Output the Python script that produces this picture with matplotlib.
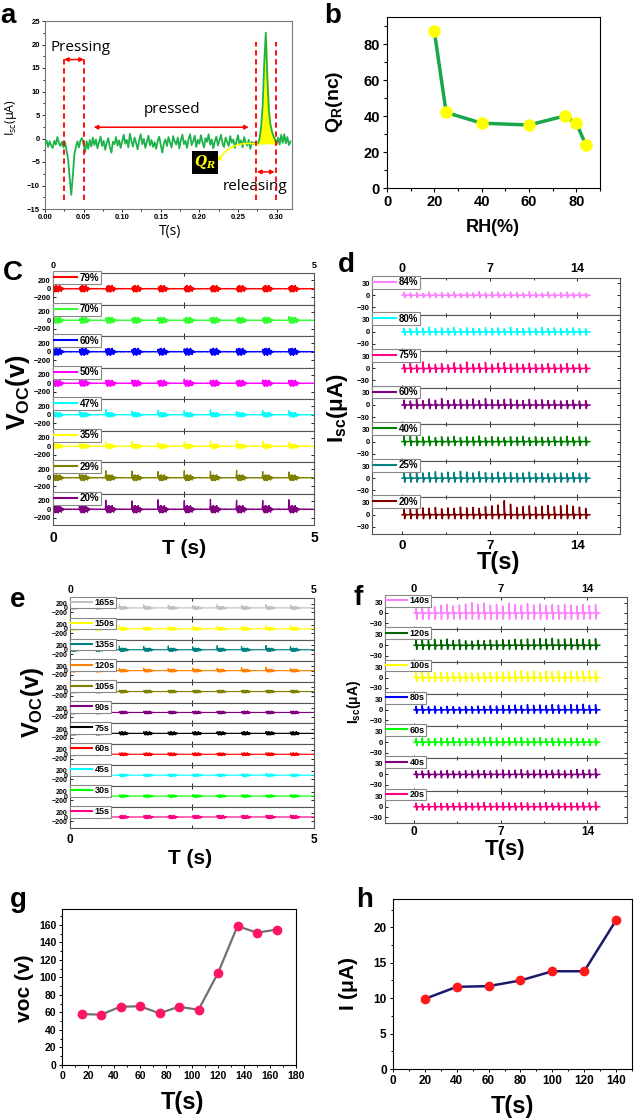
import numpy as np
import matplotlib
matplotlib.use('Agg')
import matplotlib.pyplot as plt
from matplotlib.ticker import MultipleLocator

plt.rcParams['font.family'] = ['Liberation Sans', 'DejaVu Sans']
plt.rcParams['font.weight'] = 'bold'
plt.rcParams['mathtext.default'] = 'regular'
plt.rcParams['mathtext.fontset'] = 'dejavuserif'

# ---------------- data ----------------
# panel a: short-circuit current, one press/release cycle (0.002 s step)
a_time = np.arange(160) * 0.002
a_isc = [-1.2, -0.4, -1.8, -0.6, -1.5, -2.0, -0.5, -1.3, 0.3, -1.0, -1.6, -0.7,
         -1.9, -0.8, -2.6, -4.5, -8.5, -12.0, -8.0, -3.5, -1.8, -0.6, -1.9, -0.4,
         0.1, -1.2, -2.9, -0.6, -2.2, -0.3, -1.7,
         0.2, -1.4, -0.2, -2.1, -0.8, 0.4, -1.6, -0.5, -2.4, -0.9,
         0.1, -1.8, -3.0, -0.7, -1.2, 0.3, -1.5, -0.4, -2.0, -0.6,
         0.8, -1.1, -0.3, -1.9, 1.0, -0.6, -1.7, 0.2, -0.9, -2.3,
         -0.4, 0.9, -1.2, -0.1, -2.0, -0.7, 0.6, -1.5, -0.3, -1.8,
         -0.8, -2.2, -0.5, 0.4, -1.4, -3.0, -1.0, -0.2, -1.6, 0.3,
         -0.9, -1.9, 0.5, -0.6, -1.3, 0.2, -2.1, -0.4, 0.8, -1.2,
         -0.5, -2.0, -0.1, 0.9, -1.4, -0.6, 0.6, -1.8, -0.3, -1.1,
         0.7, -0.8, -1.9, 0.1, -0.7, 0.9, -1.3, -0.2, -2.1, -0.6,
         0.4, -1.5, -0.4, 0.8, -1.0, -1.8, 0.2, -0.7, -1.6, 0.5,
         -0.9, -0.2, -2.0, -0.6, 0.7, -1.3, -0.4, -1.9, 0.3, -0.8,
         -1.5, -0.3, -2.2, -0.7, -1.2, -0.9,
         -1.3, -1.0, 0.0, 2.5, 7.0, 16.0, 22.5, 13.0, 6.0, 3.0, 1.5, 0.5,
         -0.2, -1.2, 0.2, -1.3, 0.8, -0.9, 0.9, -1.0, 0.3, -1.4, -0.6]

# panel b: transferred charge vs humidity
b_rh = [20, 25, 40, 60, 75, 80, 84]
b_qr = [87, 42, 36, 35, 40, 36, 24]

# panel c: Voc at different RH (per-cycle spike heights, burst amplitude)
c_labels = ['79%', '70%', '60%', '50%', '47%', '35%', '29%', '20%']
c_colors = ['#ff0000', '#33ff33', '#0000ff', '#ff00ff', '#00ffff', '#ffff00', '#808000', '#800080']
c_ripple = [80, 75, 85, 75, 55, 55, 70, 90]
c_spikes = [[20, 30, 10, 25, 20, 15, 30, 20, 25, 30],
            [50, 40, 60, 50, 70, 40, 60, 50, 60, 90],
            [80, 60, 70, 50, 60, 70, 60, 70, 60, 70],
            [60, 90, 70, 80, 60, 100, 70, 60, 80, 70],
            [120, 100, 130, 90, 110, 100, 120, 90, 110, 100],
            [110, 80, 100, 120, 90, 110, 130, 140, 120, 100],
            [120, 140, 170, 160, 150, 170, 160, 180, 150, 140],
            [230, 210, 220, 200, 230, 210, 240, 220, 210, 230]]

# panel d: Isc at different RH (per-pulse peak heights, dip depth)
d_labels = ['84%', '80%', '75%', '60%', '40%', '25%', '20%']
d_colors = ['#ff80ff', '#00ffff', '#ff0080', '#800080', '#008000', '#008080', '#800000']
d_down = [6, 8, 10, 9, 10, 10, 10]
d_up = [[8, 6, 7, 5, 8, 6, 7, 6, 8, 5, 7, 6, 9, 6, 8, 7, 6, 8, 7, 6, 9, 7, 6, 8, 6, 7, 8, 6, 7, 5],
        [9, 8, 10, 9, 12, 8, 10, 9, 11, 8, 10, 9, 8, 11, 9, 10, 8, 12, 9, 8, 10, 9, 11, 8, 10, 9, 8, 10, 9, 8],
        [10, 14, 9, 16, 11, 10, 12, 9, 14, 10, 16, 11, 12, 15, 10, 13, 14, 11, 12, 10, 13, 11, 10, 12, 11, 10, 12, 9, 11, 10],
        [12, 10, 14, 11, 15, 12, 16, 11, 13, 14, 12, 15, 11, 16, 13, 12, 14, 15, 12, 11, 14, 12, 13, 11, 12, 10, 11, 12, 10, 11],
        [14, 16, 12, 11, 13, 10, 12, 11, 13, 10, 12, 11, 14, 10, 12, 11, 10, 12, 11, 13, 10, 12, 11, 10, 12, 11, 13, 10, 12, 11],
        [14, 12, 15, 13, 14, 16, 13, 15, 14, 17, 15, 13, 16, 14, 12, 15, 13, 14, 12, 13, 15, 12, 13, 11, 12, 13, 11, 14, 12, 13],
        [16, 18, 15, 17, 16, 18, 15, 17, 16, 19, 17, 18, 16, 20, 22, 24, 35, 26, 18, 20, 22, 19, 21, 23, 20, 22, 24, 21, 19, 16]]

# panel e: Voc at different contact times
e_labels = ['165s', '150s', '135s', '120s', '105s', '90s', '75s', '60s', '45s', '30s', '15s']
e_colors = ['#c0c0c0', '#ffff00', '#008080', '#ff8000', '#808000', '#800080', '#000000',
            '#ff0000', '#00ffff', '#00ff00', '#ff0080']
e_ripple = [70, 70, 80, 70, 70, 70, 80, 70, 60, 60, 80]
e_spikes = [[40, 60, 160, 150, 140, 120, 150, 130, 160, 140],
            [30, 50, 180, 120, 130, 140, 120, 130, 150, 170],
            [20, 80, 170, 150, 180, 140, 190, 160, 200, 150],
            [20, 40, 100, 120, 110, 130, 120, 150, 160, 110],
            [10, 40, 60, 50, 60, 40, 50, 60, 50, 60],
            [10, 30, 50, 60, 40, 50, 60, 40, 50, 60],
            [10, 30, 70, 80, 60, 70, 80, 60, 90, 70],
            [10, 30, 60, 50, 70, 60, 50, 60, 70, 60],
            [10, 20, 50, 40, 60, 50, 40, 60, 80, 50],
            [10, 30, 60, 50, 60, 70, 50, 60, 50, 70],
            [10, 20, 40, 60, 50, 60, 80, 70, 80, 90]]

# panel f: Isc at different contact times
f_labels = ['140s', '120s', '100s', '80s', '60s', '40s', '20s']
f_colors = ['#ff80ff', '#006400', '#ffff00', '#0000ff', '#00ff00', '#800080', '#ff0080']
f_down = [18, 12, 12, 10, 10, 10, 10]
f_up = [[22, 20, 24, 18, 22, 25, 20, 23, 26, 30, 24, 28, 22, 25, 20, 28, 24, 22, 27, 23, 26, 21, 24, 22, 25, 23, 20, 24, 22, 24],
        [16, 18, 14, 17, 15, 18, 14, 16, 13, 12, 14, 13, 15, 14, 16, 15, 17, 16, 18, 17, 19, 18, 20, 17, 18, 19, 17, 18, 16, 19],
        [15, 17, 14, 16, 15, 14, 16, 13, 15, 14, 13, 15, 14, 16, 15, 17, 18, 20, 17, 19, 16, 18, 17, 19, 16, 18, 17, 19, 18, 20],
        [10, 12, 9, 11, 8, 10, 9, 8, 10, 9, 11, 10, 12, 11, 13, 12, 14, 12, 15, 13, 14, 12, 15, 14, 13, 15, 14, 16, 13, 15],
        [10, 12, 11, 10, 12, 11, 13, 10, 12, 11, 12, 13, 14, 12, 11, 13, 12, 14, 11, 12, 13, 10, 12, 11, 10, 12, 11, 10, 9, 11],
        [9, 10, 11, 9, 10, 11, 10, 9, 11, 10, 12, 11, 10, 12, 13, 11, 12, 14, 11, 12, 13, 11, 12, 13, 11, 12, 14, 12, 13, 16],
        [10, 8, 9, 11, 10, 9, 10, 11, 12, 10, 11, 12, 10, 11, 12, 11, 10, 12, 11, 10, 11, 12, 10, 11, 10, 11, 10, 12, 11, 14]]

# panel g / h
g_t = [15, 30, 45, 60, 75, 90, 105, 120, 135, 150, 165]
g_voc = [58, 57.5, 66.5, 67, 59, 66.5, 63, 105, 158.5, 151, 154.5]
h_t = [20, 40, 60, 80, 100, 120, 140]
h_i = [9.9, 11.6, 11.7, 12.5, 13.8, 13.8, 21.0]

# shape of one Voc cycle (burst after the contact spike), normalised
CYCLE = [0, 0, -0.5, 0.7, -1.0, 0.9, -0.8, 1.0, -0.9, 0.6, -1.0, 0.8, -0.7, 1.0, -0.6, 0.5,
         -0.8, 0.4, -0.3, 0.2, -0.2, 0.1, 0, -0.1, 0.1, 0, -0.05, 0.05, 0.1, -0.1, 0, 0.05,
         -0.05, 0.1, 0, -0.1, 0.05, 0, 0.05, -0.05, 0, 0.1, -0.05, 0, 0.05, -0.1, 0.05, 0, -0.05, 0]

W, H = 634, 1120
fig = plt.figure(figsize=(6.34, 11.2), dpi=100)


def pax(l, t, r, b):
    return fig.add_axes([l / W, 1 - b / H, (r - l) / W, (b - t) / H])


def ptext(x, y, s, **kw):
    fig.text(x / W, 1 - y / H, s, ha=kw.pop('ha', 'center'), va=kw.pop('va', 'center'), **kw)


def voc_trace(spikes, ripple):
    segs = []
    for h in spikes:
        seg = ripple * np.array(CYCLE, dtype=float)
        seg[1] += h
        segs.append(seg)
    y = np.concatenate(segs)
    x = np.linspace(0, 5, len(y))
    return x, y


def isc_trace(ups, down):
    xs, ys = [0.0], [0.0]
    for k, h in enumerate(ups):
        tp = 0.15 + 0.5 * k
        xs += [tp, tp + 0.01, tp + 0.06, tp + 0.11, tp + 0.16, tp + 0.22]
        ys += [0, h, -down, 1.5, -1.5, 0]
    xs.append(15.0)
    ys.append(0.0)
    return xs, ys


def stack(box, labels, colors, traces, xlim, ylim, yticks, xticks, xlabels, minor,
          ytick_fs, leg_fs, top_fs, bot_fs, lw, bot_pad=4):
    l, t, r, b = box
    n = len(labels)
    h = (b - t) / n
    for k in range(n):
        ax = pax(l, t + k * h, r, t + (k + 1) * h)
        xs, ys = traces[k]
        ax.plot(xs, ys, color=colors[k], lw=lw, label=labels[k])
        ax.set_xlim(*xlim)
        ax.set_ylim(*ylim)
        ax.set_yticks(yticks)
        ax.set_xticks(xticks)
        ax.set_xticklabels(xlabels)
        if minor:
            ax.xaxis.set_minor_locator(MultipleLocator(minor))
        ax.tick_params(which='both', direction='in', top=True, right=True, length=2,
                       width=0.6, labelsize=ytick_fs, pad=1.5, labelbottom=False)
        ax.tick_params(which='minor', length=1.2)
        if k == 0:
            ax.tick_params(axis='x', labeltop=True, labelsize=top_fs, pad=2)
        if k == n - 1:
            ax.tick_params(axis='x', labelbottom=True, labelsize=bot_fs, pad=bot_pad)
        for sp in ax.spines.values():
            sp.set_color('#555555')
            sp.set_linewidth(0.8)
        leg = ax.legend(loc='upper left', bbox_to_anchor=(0.0, 1.06), frameon=True,
                        fancybox=False, framealpha=1, edgecolor='#888888',
                        prop={'weight': 'bold', 'size': leg_fs}, handlelength=2.3,
                        handletextpad=0.3, borderpad=0.15, borderaxespad=0)
        leg.get_frame().set_linewidth(0.8)
        leg.get_lines()[0].set_linewidth(1.5)


# ---------------- panel a ----------------
ax = pax(45, 21, 292, 209)
ax.plot(a_time, a_isc, color='#1db34a', lw=1.3, zorder=3)
mask = (a_time >= 0.276) & (a_time <= 0.3)
ax.fill_between(a_time, a_isc, -1.0, where=mask, color='#ffff00', zorder=2)
for xv, top in [(0.0246, 17.3), (0.0505, 17.3), (0.273, 20.5), (0.299, 20.5)]:
    ax.plot([xv, xv], [-13, top], color='red', ls=(0, (3, 2)), lw=1.3, zorder=4)
arr = dict(arrowstyle='<|-|>', color='red', lw=1.1, mutation_scale=6, shrinkA=0, shrinkB=0)
ax.annotate('', xy=(0.0505, 16.8), xytext=(0.0246, 16.8), arrowprops=arr)
ax.annotate('', xy=(0.264, 2.4), xytext=(0.063, 2.4), arrowprops=arr)
ax.annotate('', xy=(0.2975, -7.1), xytext=(0.2745, -7.1), arrowprops=arr)
ax.text(0.046, 19.4, 'Pressing', fontsize=11, fontweight='normal', family='Open Sans', ha='center', va='center')
ax.text(0.1645, 6.2, 'pressed', fontsize=11, fontweight='normal', family='Open Sans', ha='center', va='center')
ax.text(0.272, -10.3, 'releasing', fontsize=11, fontweight='normal', family='Open Sans', ha='center', va='center')
ax.annotate('', xy=(0.223, -5.0), xytext=(0.277, -1.3),
            arrowprops=dict(arrowstyle='-|>', color='#ffff00', lw=1.2, mutation_scale=6,
                            connectionstyle='arc3,rad=0.35', shrinkA=0, shrinkB=0))
ax.text(0.207, -5.1, r'$\mathit{Q_R}$', color='#ffff00', fontsize=10, ha='center', va='center',
        bbox=dict(facecolor='black', edgecolor='none', pad=1.5))
ax.set_xlim(0, 0.32)
ax.set_ylim(-15, 25)
ax.set_xticks(np.arange(0, 0.31, 0.05))
ax.set_xticklabels(['0.00', '0.05', '0.10', '0.15', '0.20', '0.25', '0.30'])
ax.set_yticks(range(-15, 26, 5))
ax.xaxis.set_minor_locator(MultipleLocator(0.025))
ax.yaxis.set_minor_locator(MultipleLocator(2.5))
ax.tick_params(which='both', labelsize=5.5, length=2, width=0.6, pad=1.5)
ax.tick_params(which='minor', length=1.2)
for sp in ax.spines.values():
    sp.set_color('#777777')
    sp.set_linewidth(0.8)
ptext(170, 232, 'T(s)', fontsize=10, fontweight='normal', family='Open Sans')
ptext(11, 118, r'I$_{sc}$($\mu$A)', fontsize=9, fontweight='normal', family='Open Sans', rotation=90)

# ---------------- panel b ----------------
ax = pax(387, 17, 600, 188)
ax.plot(b_rh, b_qr, color='#1aa64b', lw=2.5, marker='o', ms=8, mfc='#ffff00', mec='#ffff00')
ax.set_xlim(0, 90)
ax.set_ylim(0, 95)
ax.set_xticks([0, 20, 40, 60, 80])
ax.set_yticks([0, 20, 40, 60, 80])
ax.xaxis.set_minor_locator(MultipleLocator(10))
ax.yaxis.set_minor_locator(MultipleLocator(10))
ax.tick_params(which='both', labelsize=10.5, length=3, width=0.8, pad=2)
ax.tick_params(which='minor', length=2)
ptext(493, 227, 'RH(%)', fontsize=13)
ptext(334, 102, r'Q$_R$(nc)', fontsize=14, rotation=90)

# ---------------- panel c ----------------
c_traces = [voc_trace(s, r) for s, r in zip(c_spikes, c_ripple)]
stack((53, 273, 314, 525), c_labels, c_colors, c_traces, (0, 5), (-380, 380), [-200, 0, 200],
      [0, 2.5, 5], ['0', '', '5'], None, 5.5, 7, 6.5, 10, 0.9)
ptext(184, 548, 'T (s)', fontsize=15)
ptext(18, 392, r'V$_{OC}$(v)', fontsize=18, rotation=90)

# ---------------- panel d ----------------
d_traces = [isc_trace(u, dn) for u, dn in zip(d_up, d_down)]
stack((372, 278, 620, 534), d_labels, d_colors, d_traces, (-2.4, 17.4), (-48, 43), [-30, 0, 30],
      [0, 7, 14], ['0', '7', '14'], 3.5, 5.5, 7, 9, 9.5, 1.1)
ptext(498, 562, 'T(s)', fontsize=17)
ptext(337, 408, r'I$_{sc}$($\mu$A)', fontsize=16, rotation=90)

# ---------------- panel e ----------------
e_traces = [voc_trace(s, r) for s, r in zip(e_spikes, e_ripple)]
stack((70, 598, 314, 828), e_labels, e_colors, e_traces, (0, 5), (-510, 460), [-200, 0, 200],
      [0, 2.5, 5], ['0', '', '5'], None, 5, 6.5, 7.5, 8.5, 0.8)
ptext(190, 858, 'T (s)', fontsize=15)
ptext(33, 702, r'V$_{OC}$(v)', fontsize=17, rotation=90)

# ---------------- panel f ----------------
f_traces = [isc_trace(u, dn) for u, dn in zip(f_up, f_down)]
stack((385, 597, 627, 823), f_labels, f_colors, f_traces, (-2.35, 17.2), (-47, 46), [-30, 0, 30],
      [0, 7, 14], ['0', '7', '14'], 3.5, 5.5, 6.5, 8, 8.5, 1.1, bot_pad=2)
ptext(505, 850, 'T(s)', fontsize=16)
ptext(354, 702, r'I$_{sc}$($\mu$A)', fontsize=10, rotation=90)

# ---------------- panel g ----------------
ax = pax(62, 909, 296, 1065)
ax.plot(g_t, g_voc, color='#707070', lw=1.6, marker='o', ms=6, mfc='#ff1466', mec='#ff1466')
ax.set_xlim(0, 180)
ax.set_ylim(0, 178)
ax.set_xticks(range(0, 181, 20))
ax.set_yticks(range(0, 161, 20))
ax.xaxis.set_minor_locator(MultipleLocator(10))
ax.yaxis.set_minor_locator(MultipleLocator(10))
ax.tick_params(which='both', labelsize=7.5, length=2.5, width=0.7, pad=1.5)
ax.tick_params(which='minor', length=1.5)
ptext(182, 1103, 'T(s)', fontsize=17)
ptext(25, 988, 'voc (v)', fontsize=15, rotation=90)

# ---------------- panel h ----------------
ax = pax(393, 899, 632, 1069)
ax.plot(h_t, h_i, color='#1a1a6e', lw=1.8, marker='o', ms=6, mfc='#ff1a1a', mec='#ff1a1a')
ax.set_xlim(0, 150)
ax.set_ylim(0, 24)
ax.set_xticks(range(0, 141, 20))
ax.set_yticks(range(0, 21, 5))
ax.xaxis.set_minor_locator(MultipleLocator(10))
ax.yaxis.set_minor_locator(MultipleLocator(2.5))
ax.tick_params(which='both', labelsize=8.5, length=2.5, width=0.7, pad=2)
ax.tick_params(which='minor', length=1.5)
ptext(512, 1107, 'T(s)', fontsize=17)
ptext(349, 984, r'I ($\mu$A)', fontsize=15, rotation=90)

# panel letters
for x, y, s in [(8, 16, 'a'), (333, 16, 'b'), (13, 273, 'C'), (346, 265, 'd'),
                (18, 600, 'e'), (358, 598, 'f'), (18, 900, 'g'), (365, 900, 'h')]:
    ptext(x, y, s, fontsize=20)

fig.savefig('out.png', dpi=100)
